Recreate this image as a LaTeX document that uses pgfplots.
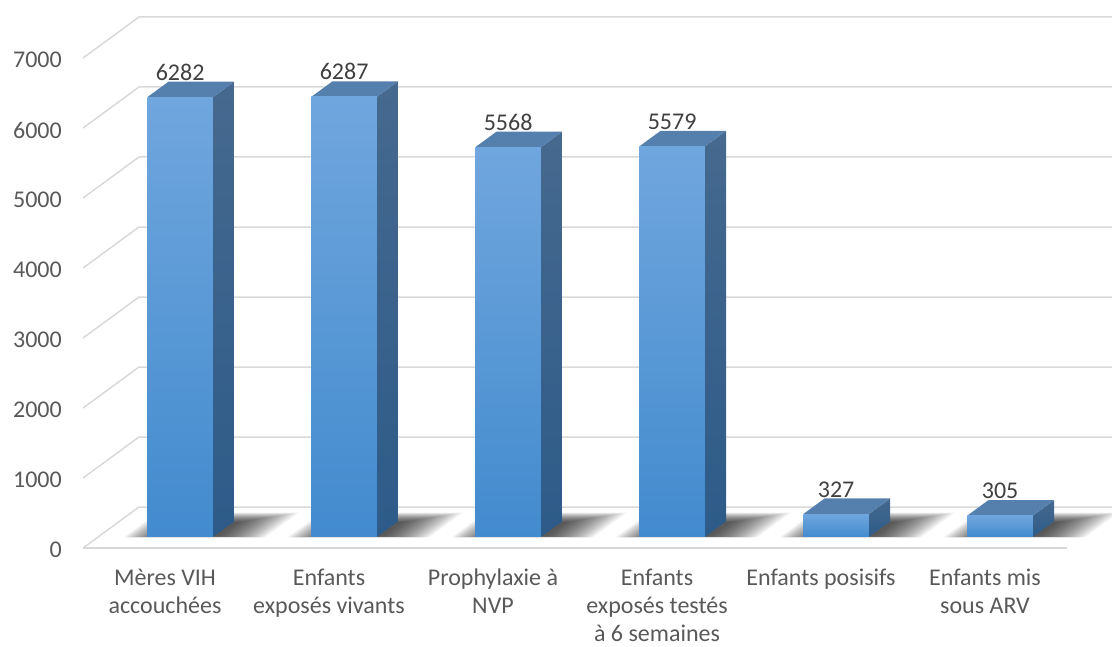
\documentclass[border=0pt]{standalone}
\usepackage{pgfplots}
\pgfplotsset{compat=1.18}
\usepackage{pgfplotstable}
\usepackage{fontspec}
\setmainfont{Carlito}
\usetikzlibrary{calc}

\definecolor{gridc}{HTML}{D9D9D9}
\definecolor{tickc}{HTML}{595959}
\definecolor{valc}{HTML}{404040}
\definecolor{frontTop}{HTML}{70A6DE}
\definecolor{frontBot}{HTML}{428BCE}
\definecolor{sideTop}{HTML}{46698F}
\definecolor{sideBot}{HTML}{2D5B89}
\definecolor{topc}{HTML}{557FAD}

% category position along the floor, and count
\pgfplotstableread{
pos value
0.5 6282
1.5 6287
2.5 5568
3.5 5579
4.5 327
5.5 305
}\bars

\begin{document}
\begin{tikzpicture}[font=\fontsize{24}{28}\selectfont]
\begin{axis}[
  hide axis, clip=false,
  x={(164pt,0pt)}, y={(56pt,41pt)}, z={(0pt,0.07pt)},
  xmin=0, xmax=6, ymin=0, ymax=1, zmin=0, zmax=7000,
]
\coordinate (O) at (axis cs:0,0,0);

% side wall diagonals, back wall grid and value scale
\pgfplotsinvokeforeach{0,1000,...,7000}{
  \addplot3[gridc, line width=1.5pt] coordinates {(0,0,#1) (0,1,#1) (6,1,#1)};
  \node[anchor=east, text=tickc, inner sep=0pt, xshift=-21pt, yshift=-2pt]
    at (axis cs:0,0,#1) {#1};
}
% front edge of the floor
\addplot3[gridc, line width=1.5pt] coordinates {(0,0,0) (6,0,0)};

% columns: soft floor shadow, then side, top and front faces
\pgfplotsinvokeforeach{0,...,5}{
  \pgfplotstablegetelem{#1}{pos}\of\bars \let\bpos\pgfplotsretval
  \pgfplotstablegetelem{#1}{value}\of\bars \let\bval\pgfplotsretval
  \pgfmathsetmacro\xl{\bpos-0.2}
  \pgfmathsetmacro\xr{\bpos+0.2}
  \foreach \kk in {1,...,20}{
    \pgfmathsetmacro\sfac{(21-\kk)/20}
    \pgfmathsetmacro\sxl{\bpos-0.1-0.24*\sfac}
    \pgfmathsetmacro\sxr{\bpos+0.22+0.3*\sfac}
    \pgfmathsetmacro\syf{0.28-0.02*\sfac}
    \pgfmathsetmacro\syb{0.62+0.24*\sfac}
    \edef\cmd{\noexpand\addplot3[draw=none, fill=black, fill opacity=0.05]
      coordinates {(\sxl,\syf,0) (\sxr,\syf,0) (\sxr,\syb,0) (\sxl,\syb,0)};}
    \cmd
  }
  \edef\cmd{%
    \noexpand\addplot3[draw=none, top color=sideTop, bottom color=sideBot]
      coordinates {(\xr,0.27,0) (\xr,0.65,0) (\xr,0.65,\bval) (\xr,0.27,\bval)};
    \noexpand\addplot3[draw=none, fill=topc]
      coordinates {(\xl,0.27,\bval) (\xr,0.27,\bval) (\xr,0.65,\bval) (\xl,0.65,\bval)};
    \noexpand\addplot3[draw=none, top color=frontTop, bottom color=frontBot]
      coordinates {(\xl,0.27,0) (\xr,0.27,0) (\xr,0.27,\bval) (\xl,0.27,\bval)};
    \noexpand\node[anchor=base, text=valc, inner sep=0pt, yshift=17pt]
      at (axis cs:\bpos,0.27,\bval) {\bval};
  }\cmd
}

% category names
\tikzset{catlabel/.style={anchor=north, align=center, text=tickc, inner sep=0pt, yshift=-21pt}}
\node[catlabel] at (axis cs:0.5,0,0) {Mères VIH\\accouchées};
\node[catlabel] at (axis cs:1.5,0,0) {Enfants\\exposés vivants};
\node[catlabel] at (axis cs:2.5,0,0) {Prophylaxie à\\NVP};
\node[catlabel] at (axis cs:3.5,0,0) {Enfants\\exposés testés\\à 6 semaines};
\node[catlabel] at (axis cs:4.5,0,0) {Enfants posisifs};
\node[catlabel] at (axis cs:5.5,0,0) {Enfants mis\\sous ARV};
\end{axis}
\pgfresetboundingbox
\path ($(O)+(-83pt,-98pt)$) rectangle ($(O)+(1029pt,548pt)$);
\end{tikzpicture}
\end{document}
